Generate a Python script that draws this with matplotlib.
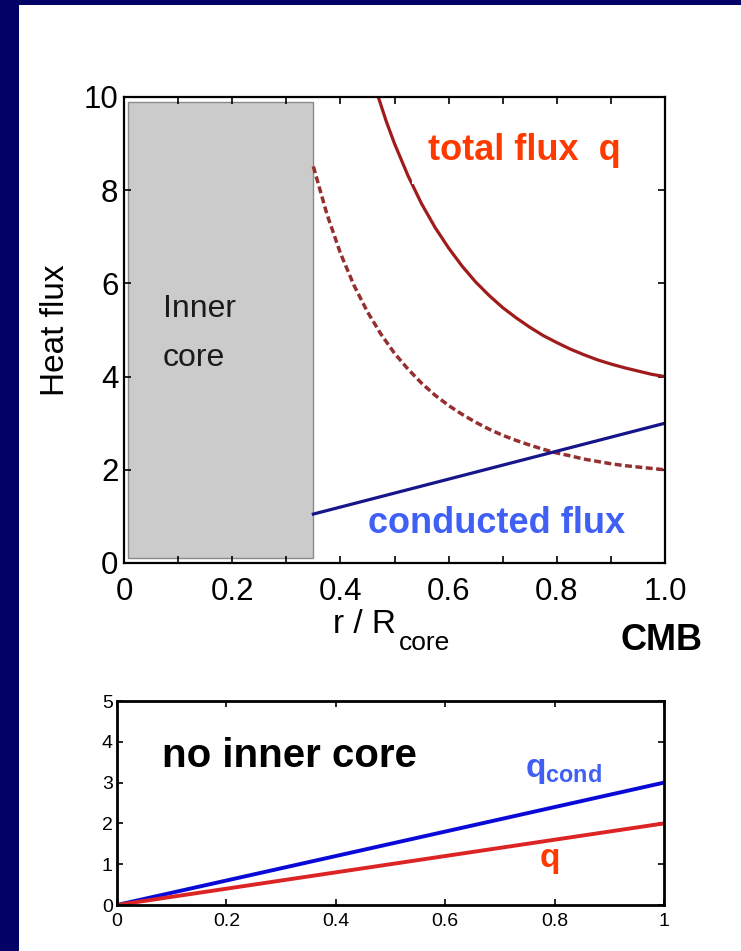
import matplotlib
matplotlib.use("Agg")
import matplotlib.pyplot as plt
from matplotlib.patches import Rectangle

plt.rcParams['font.family'] = ['Liberation Sans', 'DejaVu Sans']
plt.rcParams['mathtext.fontset'] = 'custom'
plt.rcParams['mathtext.rm'] = 'Liberation Sans'
plt.rcParams['mathtext.bf'] = 'Liberation Sans:bold'

# radius normalised by core radius
r_total = [0.47, 0.485, 0.5, 0.525, 0.55, 0.575, 0.6, 0.625, 0.65, 0.675, 0.7, 0.725,
           0.75, 0.775, 0.8, 0.825, 0.85, 0.875, 0.9, 0.925, 0.95, 0.975, 1.0]
q_total = [10.0, 9.47, 9.0, 8.31, 7.71, 7.20, 6.76, 6.37, 6.03, 5.74, 5.48, 5.26,
           5.06, 4.88, 4.73, 4.59, 4.47, 4.36, 4.27, 4.19, 4.12, 4.05, 4.0]

r_dashed = [0.35, 0.375, 0.4, 0.425, 0.45, 0.475, 0.5, 0.525, 0.55, 0.575, 0.6, 0.625,
            0.65, 0.675, 0.7, 0.725, 0.75, 0.775, 0.8, 0.825, 0.85, 0.875, 0.9, 0.925,
            0.95, 0.975, 1.0]
q_dashed = [8.51, 7.49, 6.65, 5.96, 5.39, 4.91, 4.50, 4.16, 3.86, 3.60, 3.38, 3.19,
            3.02, 2.87, 2.74, 2.63, 2.53, 2.44, 2.36, 2.30, 2.23, 2.18, 2.13, 2.09,
            2.06, 2.03, 2.0]

r_cond = [0.35, 1.0]
q_cond = [1.05, 3.0]

inner_core_r = 0.35

x_ticks = [0, 0.2, 0.4, 0.6, 0.8, 1.0]
x_tick_labels = ['0', '0.2', '0.4', '0.6', '0.8', '1.0']
y_ticks = [0, 2, 4, 6, 8, 10]

# no inner core case
r_small = [0, 1]
qcond_small = [0, 3]
q_small = [0, 2]
small_x_ticks = [0, 0.2, 0.4, 0.6, 0.8, 1]
small_x_labels = ['0', '0.2', '0.4', '0.6', '0.8', '1']
small_y_ticks = [0, 1, 2, 3, 4, 5]

W, H = 741, 951
fig = plt.figure(figsize=(W / 100, H / 100), dpi=100)
fig.patch.set_facecolor('#020266')
fig.add_artist(Rectangle((19 / W, 0), 1 - 19 / W, 1 - 5 / H, transform=fig.transFigure,
                         facecolor='white', edgecolor='none', zorder=0))


def px_axes(left, top, right, bottom):
    return [left / W, 1 - bottom / H, (right - left) / W, (bottom - top) / H]


# main panel
ax = fig.add_axes(px_axes(124, 97, 665, 563))
ax.add_patch(Rectangle((0.007, 0.1), inner_core_r - 0.007, 9.8, facecolor='#cbcbcb',
                       edgecolor='#8a8a8a', linewidth=1, zorder=1))
ax.plot(r_total, q_total, color='#a01c1c', linewidth=2.3, zorder=2)
ax.plot(r_dashed, q_dashed, color='#953030', linewidth=2.5, dashes=(2.0, 1.0), zorder=2)
ax.plot(r_cond, q_cond, color='#16168a', linewidth=2.3, zorder=2)

ax.set_xlim(0, 1)
ax.set_ylim(0, 10)
ax.set_xticks(x_ticks)
ax.set_xticklabels(x_tick_labels)
ax.set_xticks([0.1, 0.3, 0.5, 0.7, 0.9], minor=True)
ax.set_yticks(y_ticks)
ax.tick_params(which='both', direction='in', top=True, right=True, length=5, width=1.2,
               labelsize=22.5)
ax.tick_params(axis='x', which='major', pad=10)
ax.tick_params(axis='y', which='major', pad=4)
for s in ax.spines.values():
    s.set_linewidth(1.6)

ax.text(0.562, 8.65, 'total flux  q', color='#ff3a00', fontsize=26, fontweight='bold',
        ha='left', va='baseline', zorder=3,
        bbox=dict(boxstyle='square,pad=0.45', facecolor='white', edgecolor='none'))
ax.text(0.451, 0.64, 'conducted flux', color='#3f5ff5', fontsize=26, fontweight='bold',
        ha='left', va='baseline', zorder=3)
ax.text(0.072, (563 - 317) / 46.6, 'Inner', color='#1a1a1a', fontsize=23,
        ha='left', va='baseline', zorder=3)
ax.text(0.072, (563 - 366) / 46.6, 'core', color='#1a1a1a', fontsize=23,
        ha='left', va='baseline', zorder=3)

ax.text(-0.1275, 0.5, 'Heat flux', rotation=90, fontsize=24, ha='center', va='center',
        transform=ax.transAxes)
ax.text(0.386, -0.150, 'r / R', fontsize=24, ha='left', va='baseline',
        transform=ax.transAxes)
ax.text(0.509, -0.187, 'core', fontsize=19, ha='left', va='baseline',
        transform=ax.transAxes)
ax.text(0.917, -0.187, 'CMB', fontsize=26, fontweight='bold', ha='left', va='baseline',
        transform=ax.transAxes)

# small panel without an inner core
ax2 = fig.add_axes(px_axes(117, 701, 664, 905))
ax2.plot(r_small, qcond_small, color='#0a0ad8', linewidth=2.8)
ax2.plot(r_small, q_small, color='#dd2424', linewidth=2.8)
ax2.set_xlim(0, 1)
ax2.set_ylim(0, 5)
ax2.set_xticks(small_x_ticks)
ax2.set_xticklabels(small_x_labels)
ax2.set_yticks(small_y_ticks)
ax2.tick_params(direction='in', top=True, right=True, length=4, width=1.2, labelsize=14)
ax2.tick_params(axis='x', pad=6)
ax2.tick_params(axis='y', pad=3)
for s in ax2.spines.values():
    s.set_linewidth(2)

ax2.text(0.082, 3.38, 'no inner core', fontsize=29, fontweight='bold', ha='left',
         va='baseline')
ax2.text(0.746, 3.14, r'$\mathbf{q}_{\mathbf{cond}}$', color='#3f5ff5', fontsize=24,
         ha='left', va='baseline')
ax2.text(0.773, 0.93, 'q', color='#ff3a00', fontsize=24, fontweight='bold', ha='left',
         va='baseline')

fig.savefig('out.png', dpi=100, facecolor=fig.get_facecolor())
